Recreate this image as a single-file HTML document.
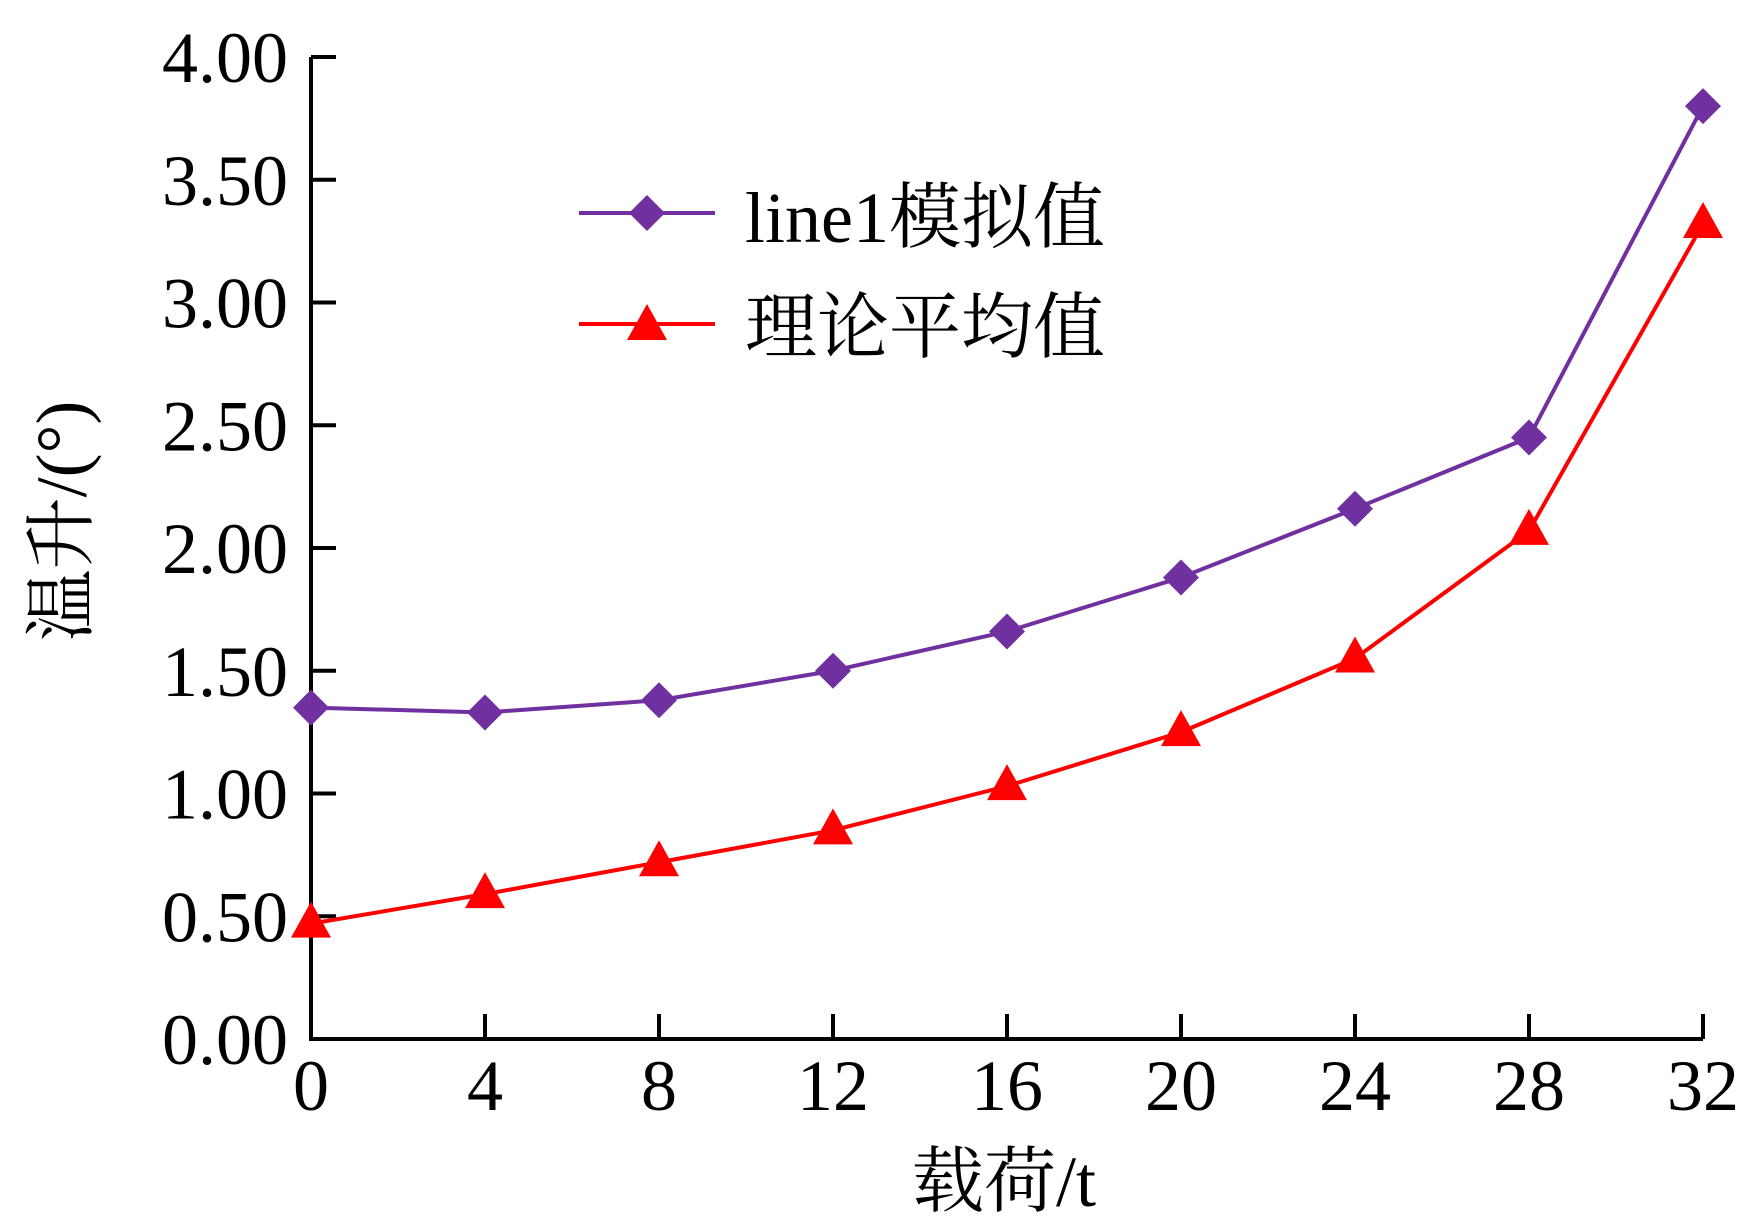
<!DOCTYPE html>
<html><head><meta charset="utf-8"><style>
html,body{margin:0;padding:0;background:#fff}
svg{display:block}
text{font-family:"Liberation Serif","Noto Serif CJK SC",serif;fill:#000}
</style></head><body>
<svg id="chart" width="1739" height="1229" viewBox="0 0 1739 1229" xmlns="http://www.w3.org/2000/svg"></svg>
<script>
const categories=[0,4,8,12,16,20,24,28,32];
const simValues=[1.35,1.33,1.38,1.50,1.66,1.88,2.16,2.45,3.80];
const theoryValues=[0.47,0.59,0.72,0.85,1.03,1.25,1.55,2.07,3.32];
const yTicks=["0.00","0.50","1.00","1.50","2.00","2.50","3.00","3.50","4.00"];
const xTicks=["0","4","8","12","16","20","24","28","32"];
const NS="http://www.w3.org/2000/svg";
const svg=document.getElementById('chart');
const X0=311,X1=1703,Y0=1039,Y1=57;
const xs=v=>X0+(v-0)/(32-0)*(X1-X0);
const ys=v=>Y0-(v-0)/(4-0)*(Y0-Y1);
function mk(t,a){const e=document.createElementNS(NS,t);for(const k in a)e.setAttribute(k,a[k]);svg.appendChild(e);return e;}
// axes
let ax=mk('path',{d:`M${X0} ${Y1}V${Y0}H${X1}`,stroke:'#000','stroke-width':4,fill:'none'});


yTicks.forEach(t=>{const y=ys(parseFloat(t));
 let l=mk('line',{x1:X0,x2:X0+25,y1:y,y2:y,stroke:'#000','stroke-width':4});
 
 
 let tx=mk('text',{x:288,y:y+25,'text-anchor':'end','font-size':72});tx.textContent=t;
 
 
});
xTicks.forEach(t=>{const x=xs(parseFloat(t));
 let l=mk('line',{x1:x,x2:x,y1:Y0,y2:Y0-25,stroke:'#000','stroke-width':4});
 
 
 let tx=mk('text',{x:x,y:1110,'text-anchor':'middle','font-size':72});tx.textContent=t;
 
 
});
let xt=mk('text',{x:1004,y:1206,'text-anchor':'middle','font-size':72});xt.textContent='载荷/t';


let yt=mk('text',{x:0,y:0,'text-anchor':'middle','font-size':72,transform:'translate(86,521) rotate(-90)'});yt.textContent='温升/(°)';


function diamond(x,y,c){return mk('polygon',{points:`${x},${y-18} ${x+18},${y} ${x},${y+18} ${x-18},${y}`,fill:c});}
function tri(x,y,c){return mk('polygon',{points:`${x},${y-22} ${x+20},${y+14} ${x-20},${y+14}`,fill:c});}
function series(vals,color,marker,name){
 let p=mk('polyline',{points:vals.map((v,i)=>xs(categories[i])+','+ys(v)).join(' '),fill:'none',stroke:color,'stroke-width':4});
 
 
 vals.forEach((v,i)=>{const m=marker(xs(categories[i]),ys(v),color);
  
  });
}
series(simValues,'#7030a0',diamond,'sim');
series(theoryValues,'#ff0000',tri,'theory');
// legend
let l1=mk('line',{x1:579,x2:715,y1:213,y2:213,stroke:'#7030a0','stroke-width':4});


let d1=diamond(647,213,'#7030a0');


let t1=mk('text',{x:745,y:242,'font-size':72});t1.textContent='line1模拟值';


let l2=mk('line',{x1:579,x2:715,y1:324,y2:324,stroke:'#ff0000','stroke-width':4});


let d2=tri(647,326,'#ff0000');


let t2=mk('text',{x:745,y:352,'font-size':72});t2.textContent='理论平均值';


</script>
</body></html>
